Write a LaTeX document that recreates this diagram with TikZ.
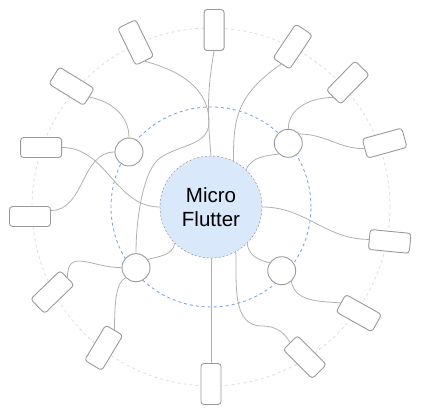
\documentclass[tikz,border=0pt]{standalone}
\usepackage{fontspec}
\setmainfont{Liberation Sans}
\usetikzlibrary{backgrounds}

\definecolor{wiregray}{HTML}{B0B0B0}
\definecolor{boxgray}{HTML}{9A9A9A}
\definecolor{coreblue}{HTML}{DAE8FC}
\definecolor{ringblue}{HTML}{7EA6E0}
\definecolor{ringgray}{HTML}{DDDDDD}

\begin{document}
\begin{tikzpicture}[x=1bp, y=1bp,
    leaf/.style={draw=boxgray, fill=white, rounded corners=3bp,
      minimum width=41bp, minimum height=20bp, inner sep=0pt, line width=0.9bp},
    hub/.style={circle, draw=boxgray, fill=white, minimum size=28bp,
      inner sep=0pt, line width=0.9bp},
    core/.style={circle, draw=gray, dash pattern=on 2bp off 2bp, fill=coreblue,
      minimum size=102bp, inner sep=0pt, align=center,
      font=\fontsize{20.5bp}{24.3bp}\selectfont},
    wire/.style={draw=wiregray, line width=0.8bp},
  ]
  \useasboundingbox (0,0) rectangle (421,414);

  % Centre and hubs
  \node[core] (mf) at (211,207) {Micro\\Flutter};
  \node[hub] (ul) at (129,262) {};
  \node[hub] (ur) at (288.3,270.7) {};
  \node[hub] (ll) at (136,146.3) {};
  \node[hub] (lr) at (281.7,143.3) {};

  % Leaves on the outer ring (west anchor faces the centre)
  \begin{scope}[shift={(211,207)}]
    \foreach \i/\a/\d/\r in {1/89/177/90, 2/114.6/181/116, 3/139.1/184.5/148.3,
        4/160.7/180/180, 5/183/181.2/180, 6/208.2/180/224, 7/232.7/177/239,
        8/270/177/270, 9/302/177/315, 10/324.3/182/330.7, 11/349.1/182/-5.5,
        12/20.2/185/15.4, 13/42.3/185/45.6, 14/63/180/56.2}
      \node[leaf, rotate=\r] (r\i) at (\a:\d) {};
  \end{scope}

  % Bends
  \coordinate (w1) at (209,292);
  \coordinate (w2) at (160,256);
  \coordinate (w3) at (262,88);

  \begin{scope}[on background layer]
    % Rings
    \draw[ringgray, line width=0.8bp, dash pattern=on 3bp off 3bp]
      (mf.center) circle[radius=179bp];
    \draw[ringblue, line width=0.9bp, dash pattern=on 3bp off 3bp]
      (mf.center) circle[radius=100bp];

    % Wires into the centre
    \draw[wire] (r1.west) to[out=-100, in=95] (mf.north);
    \draw[wire] (r14.west) to[out=215, in=90, out looseness=1.3] (mf.64);
    \draw[wire] (ur.228) to[out=187, in=63] (mf.47);
    \draw[wire] (mf.east) to[out=0, in=180] (r11.west);
    \draw[wire] (mf.-61) to[out=-88, in=180] (w3) to[out=0, in=120] (r9.west);
    \draw[wire] (mf.south) -- (r8.west);
    \draw[wire] (mf.-45) to[out=-85, in=170] (lr.146);
    \draw[wire] (mf.225) to[out=-100, in=15] (ll.35);
    \draw[wire] (r4.west) to[out=0, in=180] (mf.west);

    % Wires out of the hubs
    \draw[wire] (lr.-48) to[out=-80, in=175] (r10.west);
    \draw[wire] (ll.west) to[out=180, in=90, looseness=1.4] (r6.west);
    \draw[wire] (ll.225) to[out=200, in=90, out looseness=0.5,
      in looseness=1.3] (r7.west);
    \draw[wire] (r2.west) to[out=-15, in=90] (w1) to[out=-90, in=35] (w2)
      to[out=215, in=90, out looseness=0.5] (ll.north);
    \draw[wire] (r3.west) to[out=-10, in=90] (ul.north);
    \draw[wire] (ul.west) to[out=180, in=0] ([yshift=6bp]r5.west);
    \draw[wire] (r13.west) to[out=180, in=90] (ur.north);
    \draw[wire] (ur.40) to[out=0, in=180] (r12.west);
  \end{scope}
\end{tikzpicture}
\end{document}
